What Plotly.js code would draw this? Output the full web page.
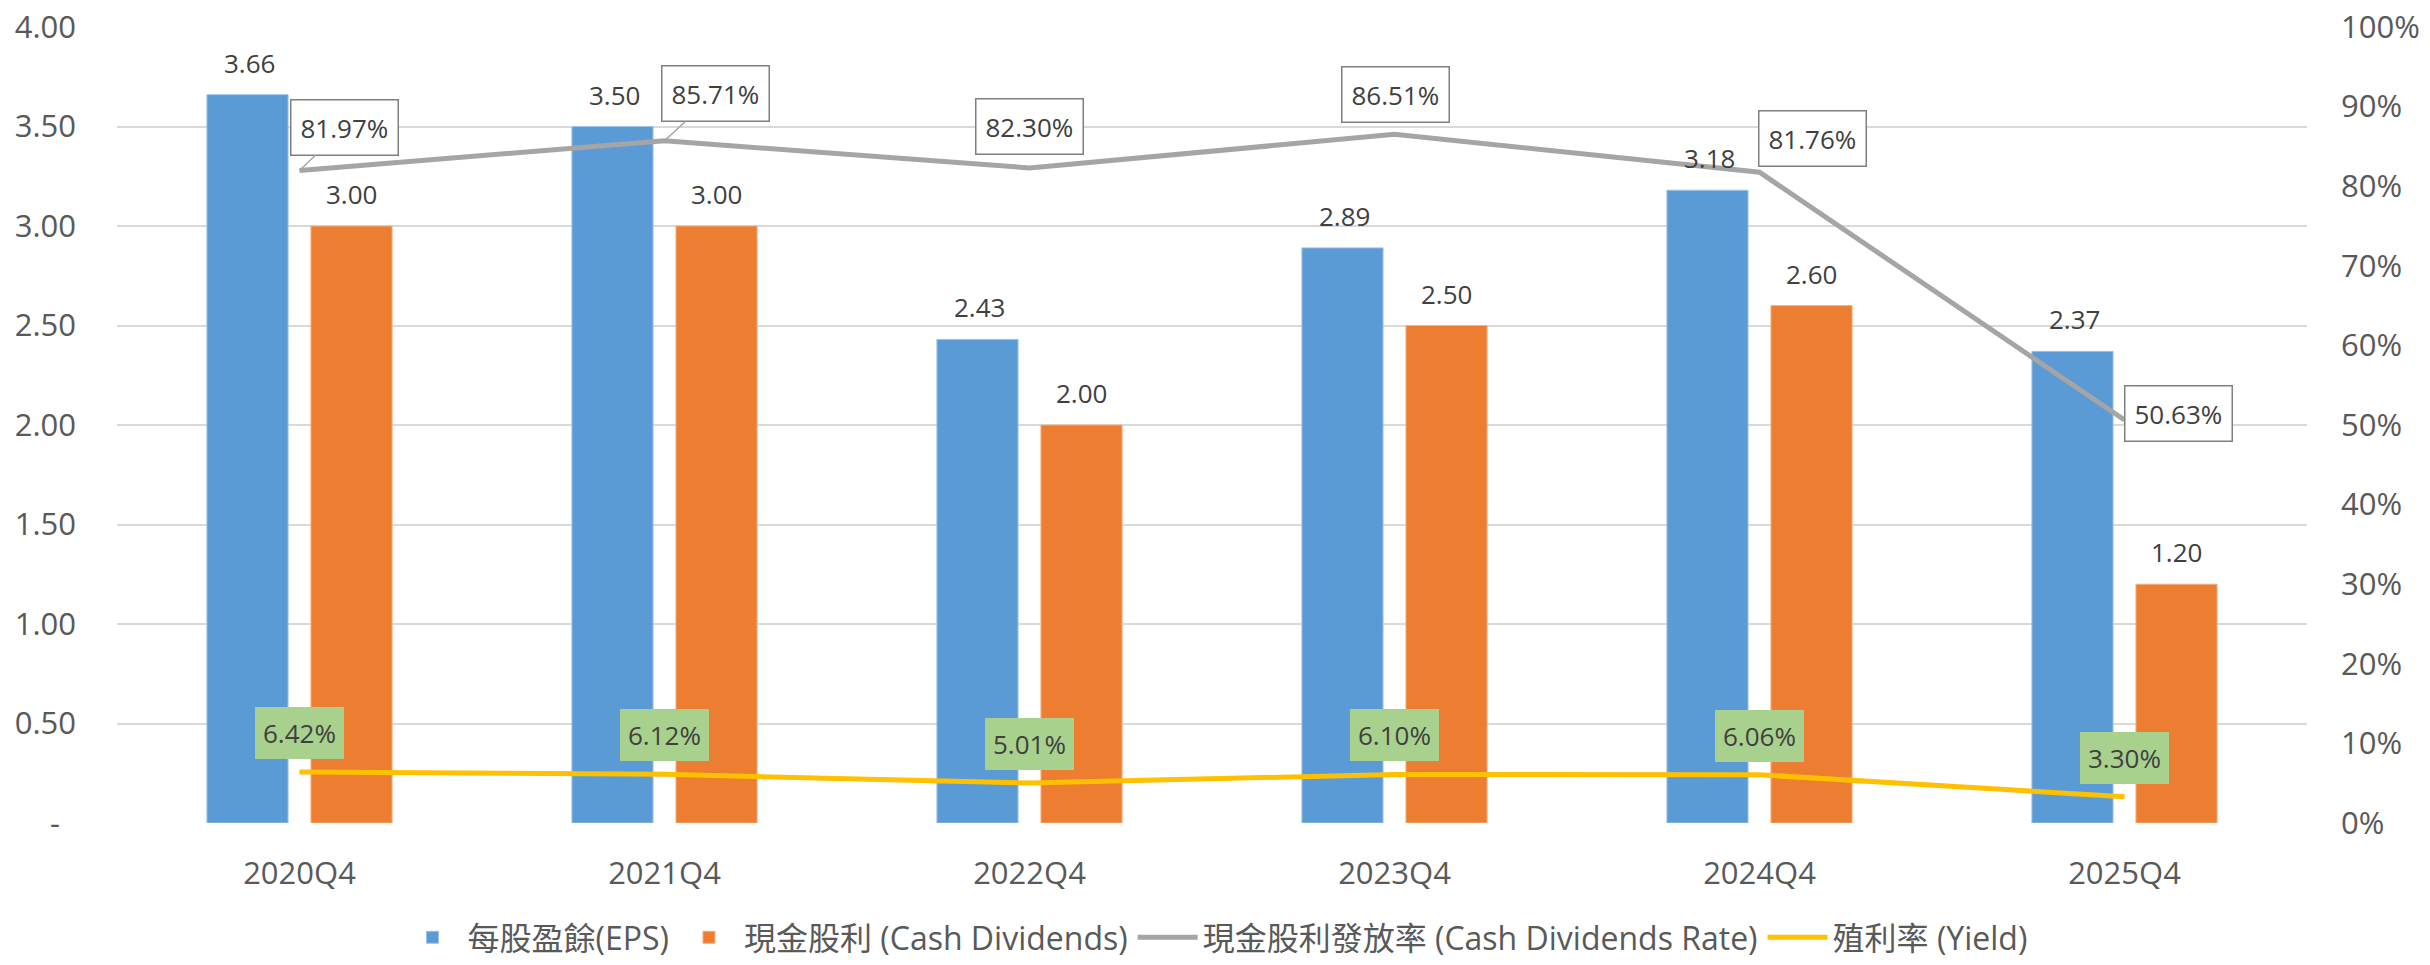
<!DOCTYPE html>
<html>
<head>
<meta charset="utf-8">
<script src="https://cdn.plot.ly/plotly-3.0.1.min.js"></script>
<style>
  html, body { margin: 0; padding: 0; background: #ffffff; }
  #chart { width: 2430px; height: 965px; }
</style>
</head>
<body>
<div id="chart"></div>
<script>
// ---- data ----
const categories = ['2020Q4', '2021Q4', '2022Q4', '2023Q4', '2024Q4', '2025Q4'];
const eps = [3.66, 3.50, 2.43, 2.89, 3.18, 2.37];
const cashDividends = [3.00, 3.00, 2.00, 2.50, 2.60, 1.20];
const payoutRate = [81.97, 85.71, 82.30, 86.51, 81.76, 50.63];   // %
const yieldRate = [6.42, 6.12, 5.01, 6.10, 6.06, 3.30];          // %
const leftTickVals = [0, 0.5, 1, 1.5, 2, 2.5, 3, 3.5, 4];
const leftTickText = ['-\u00a0\u00a0', '0.50', '1.00', '1.50', '2.00', '2.50', '3.00', '3.50', '4.00'];
const seriesNames = ['每股盈餘(EPS)', '現金股利 (Cash Dividends)', '現金股利發放率 (Cash Dividends Rate)', '殖利率 (Yield)'];

// ---- label placement styles (pixel offsets of the label boxes) ----
const rateLabelStyle = [
  {leader: true,  dx: 45, dy: -43},
  {leader: true,  dx: 51, dy: -47},
  {leader: false, dx: 0,  dy: -41},
  {leader: false, dx: 1,  dy: -40},
  {leader: false, dx: 53, dy: -34},
  {leader: false, dx: 54, dy: -6}
];

const FONT = '"Open Sans", "Noto Sans CJK TC", "Noto Sans", sans-serif';
const TICK_COLOR = '#595959';
const LABEL_COLOR = '#404040';
const BLUE = '#5B9BD5', ORANGE = '#ED7D31', GRAY = '#A5A5A5', GOLD = '#FFC000';

const traces = [
  {
    type: 'bar', name: seriesNames[0], x: categories, y: eps,
    marker: {color: BLUE, line: {color: '#9DC3E6', width: 1}},
    hoverinfo: 'skip'
  },
  {
    type: 'bar', name: seriesNames[1], x: categories, y: cashDividends,
    marker: {color: ORANGE, line: {color: '#F4B183', width: 1}},
    hoverinfo: 'skip'
  },
  {
    type: 'scatter', mode: 'lines', name: seriesNames[2], x: categories,
    y: payoutRate.map(v => v / 100), yaxis: 'y2',
    line: {color: GRAY, width: 5},
    hoverinfo: 'skip'
  },
  {
    type: 'scatter', mode: 'lines', name: seriesNames[3], x: categories,
    y: yieldRate.map(v => v / 100), yaxis: 'y2',
    line: {color: GOLD, width: 5},
    hoverinfo: 'skip'
  }
];

const annotations = [];
const LABEL_FONT = {family: FONT, size: 26, color: LABEL_COLOR};

categories.forEach((c, i) => {
  annotations.push({
    x: c, y: eps[i], xref: 'x', yref: 'y', text: eps[i].toFixed(2),
    showarrow: false, xshift: -50, yshift: 32, font: LABEL_FONT
  });
  annotations.push({
    x: c, y: cashDividends[i], xref: 'x', yref: 'y', text: cashDividends[i].toFixed(2),
    showarrow: false, xshift: 52, yshift: 32, font: LABEL_FONT
  });
  const st = rateLabelStyle[i];
  const rateAnn = {
    x: c, y: payoutRate[i] / 100, xref: 'x', yref: 'y2',
    text: payoutRate[i].toFixed(2) + '%', font: LABEL_FONT,
    bgcolor: '#ffffff', bordercolor: '#7F7F7F', borderwidth: 1.5, borderpad: 9
  };
  if (st.leader) {
    Object.assign(rateAnn, {showarrow: true, ax: st.dx, ay: st.dy, axref: 'pixel', ayref: 'pixel',
      arrowhead: 0, arrowwidth: 1.5, arrowcolor: GRAY, standoff: 0});
  } else {
    Object.assign(rateAnn, {showarrow: false, xshift: st.dx, yshift: -st.dy});
  }
  annotations.push(rateAnn);
  annotations.push({
    x: c, y: yieldRate[i] / 100, xref: 'x', yref: 'y2',
    text: yieldRate[i].toFixed(2) + '%', font: LABEL_FONT,
    showarrow: false, yshift: 39, bgcolor: '#A9D18E', borderwidth: 0, borderpad: 8
  });
});

const layout = {
  width: 2430, height: 965,
  margin: {l: 117, r: 123, t: 27, b: 142, autoexpand: false},
  paper_bgcolor: '#ffffff', plot_bgcolor: '#ffffff',
  font: {family: FONT, color: TICK_COLOR, size: 30},
  barmode: 'group', bargap: 0.43, bargroupgap: 0.22,
  showlegend: true,
  legend: {
    orientation: 'h', x: 0.5, xanchor: 'center', xref: 'container',
    y: 0, yanchor: 'bottom', yref: 'container',
    font: {family: FONT, size: 32, color: TICK_COLOR}, itemwidth: 60, itemgap: 50,
    bgcolor: 'rgba(0,0,0,0)', traceorder: 'normal'
  },
  xaxis: {
    type: 'category', showgrid: false, zeroline: false, showline: false,
    ticks: '', tickfont: {family: FONT, size: 31, color: TICK_COLOR}, ticklabelstandoff: 29
  },
  yaxis: {
    range: [0, 4], tickvals: leftTickVals, ticktext: leftTickText,
    showgrid: true, gridcolor: '#D9D9D9', gridwidth: 2, zeroline: false, showline: false,
    ticks: '', tickfont: {family: FONT, size: 31, color: TICK_COLOR}, ticklabelstandoff: 40
  },
  yaxis2: {
    overlaying: 'y', side: 'right', range: [0, 1], dtick: 0.1, tickformat: '.0%',
    showgrid: false, zeroline: false, showline: false,
    ticks: '', tickfont: {family: FONT, size: 31, color: TICK_COLOR}, ticklabelstandoff: 33
  },
  annotations: annotations
};

Plotly.newPlot('chart', traces, layout, {staticPlot: true, displayModeBar: false});
</script>
</body>
</html>
